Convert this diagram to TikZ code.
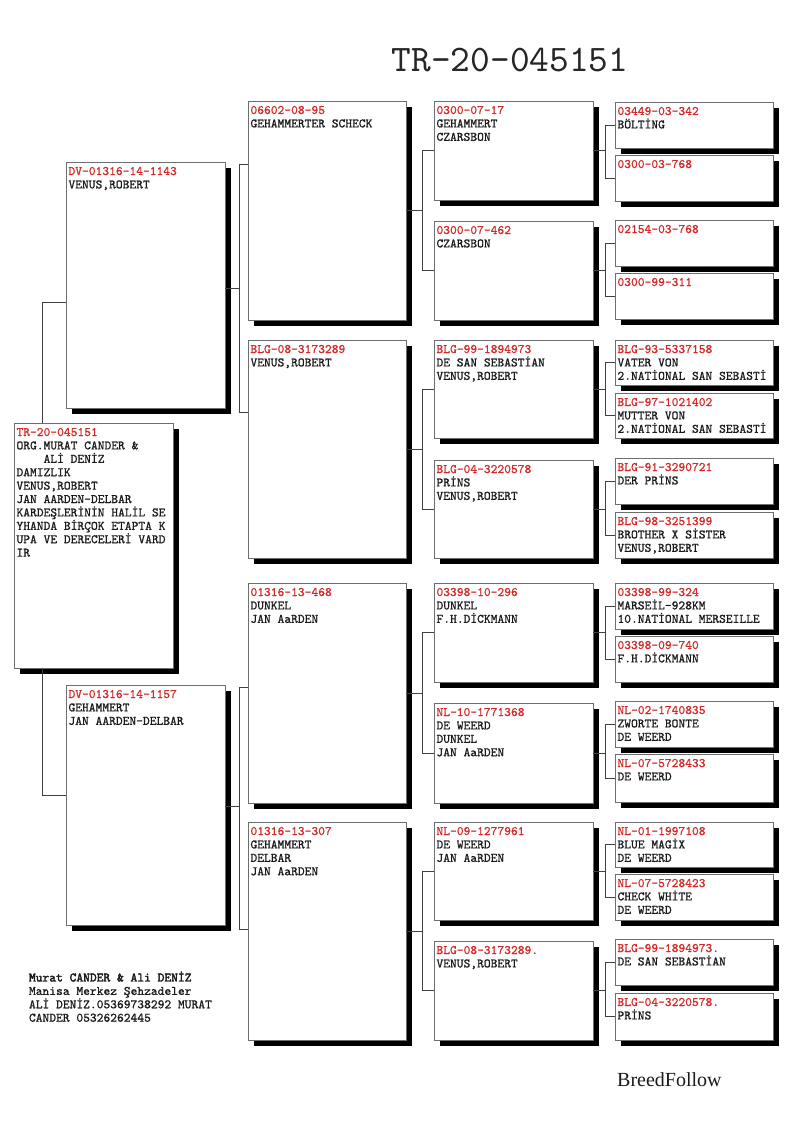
\documentclass[tikz,border=0pt]{standalone}
\usepackage{fontspec}
\setmainfont{Liberation Serif}
\newfontfamily\pedfont{lmmono10-regular.otf}[FakeBold=0.9]
\newfontfamily\titlefont{lmmono10-regular.otf}
\usetikzlibrary{calc,shadows}
\definecolor{idred}{HTML}{D42A2A}
\definecolor{framegray}{HTML}{6E6E6E}
\definecolor{inkgray}{HTML}{1A1A1A}
\tikzset{
  pbox/.style={draw=framegray, line width=0.8pt, fill=white, inner sep=0pt, outer sep=0pt,
    drop shadow={shadow xshift=6pt, shadow yshift=-6pt, fill=black, opacity=1}},
  ptxt/.style={inner sep=0pt, outer sep=0pt, align=left, text=inkgray,
    font=\pedfont\fontsize{12.9}{13.4}\selectfont},
  conn/.style={draw=black!75, line width=0.7pt},
}
\newcommand\pedbox[7]{%
  \node[pbox, minimum width=#4pt, minimum height=#5pt, anchor=north west] (#1) at (#2,#3) {};
  \node[ptxt, anchor=north west] (#1t) at ($(#1.north west)+(2.5,4)$) {\rule{0pt}{9pt}\textcolor{idred}{#6}\\#7};
}
\begin{document}
\begin{tikzpicture}[x=1pt,y=-1pt]
\useasboundingbox[fill=white] (0,0) rectangle (794,1123);

% title
\node[font=\titlefont\fontsize{37.5}{40}\selectfont, text=black!85, inner sep=0pt] (title) at (510,60) {TR-20-045151};

% root
\pedbox{root}{14}{423}{159}{245}{TR-20-045151}{ORG.MURAT CANDER \&\\\phantom{XXXX}ALİ DENİZ\\DAMIZLIK\\VENUS,ROBERT\\JAN AARDEN-DELBAR\\KARDEŞLERİNİN HALİL SE\\YHANDA BİRÇOK ETAPTA K\\UPA VE DERECELERİ VARD\\IR}

% generation 1
\pedbox{gs}{66}{162}{159}{246}{DV-01316-14-1143}{VENUS,ROBERT}
\pedbox{gd}{66}{685}{159}{240}{DV-01316-14-1157}{GEHAMMERT\\JAN AARDEN-DELBAR}

% generation 2
\pedbox{ga}{248}{101}{158}{219}{06602-08-95}{GEHAMMERTER SCHECK}
\pedbox{gb}{248}{340}{158}{218}{BLG-08-3173289}{VENUS,ROBERT}
\pedbox{gc}{248}{583}{158}{220}{01316-13-468}{DUNKEL\\JAN AaRDEN}
\pedbox{ge}{248}{822}{158}{218}{01316-13-307}{GEHAMMERT\\DELBAR\\JAN AaRDEN}

% generation 3
\pedbox{ta}{434}{101}{159}{99}{0300-07-17}{GEHAMMERT\\CZARSBON}
\pedbox{tb}{434}{221}{159}{99}{0300-07-462}{CZARSBON}
\pedbox{tc}{434}{340}{159}{98}{BLG-99-1894973}{DE SAN SEBASTİAN\\VENUS,ROBERT}
\pedbox{td}{434}{460}{159}{98}{BLG-04-3220578}{PRİNS\\VENUS,ROBERT}
\pedbox{te}{434}{583}{159}{99}{03398-10-296}{DUNKEL\\F.H.DİCKMANN}
\pedbox{tf}{434}{703}{159}{100}{NL-10-1771368}{DE WEERD\\DUNKEL\\JAN AaRDEN}
\pedbox{tg}{434}{822}{159}{98}{NL-09-1277961}{DE WEERD\\JAN AaRDEN}
\pedbox{th}{434}{941}{159}{99}{BLG-08-3173289.}{VENUS,ROBERT}

% generation 4
\pedbox{fa}{615}{102}{158}{46}{03449-03-342}{BÖLTİNG}
\pedbox{fb}{615}{155}{158}{46}{0300-03-768}{}
\pedbox{fc}{615}{220}{158}{46}{02154-03-768}{}
\pedbox{fd}{615}{273}{158}{46}{0300-99-311}{}
\pedbox{fe}{615}{340}{158}{45}{BLG-93-5337158}{VATER VON\\2.NATİONAL SAN SEBASTİ}
\pedbox{ff}{615}{393}{158}{45}{BLG-97-1021402}{MUTTER VON\\2.NATİONAL SAN SEBASTİ}
\pedbox{fg}{615}{458}{158}{46}{BLG-91-3290721}{DER PRİNS}
\pedbox{fh}{615}{512}{158}{46}{BLG-98-3251399}{BROTHER X SİSTER\\VENUS,ROBERT}
\pedbox{fi}{615}{583}{158}{46}{03398-99-324}{MARSEİL-928KM\\10.NATİONAL MERSEILLE}
\pedbox{fj}{615}{636}{158}{46}{03398-09-740}{F.H.DİCKMANN}
\pedbox{fk}{615}{701}{158}{46}{NL-02-1740835}{ZWORTE BONTE\\DE WEERD}
\pedbox{fl}{615}{754}{158}{48}{NL-07-5728433}{DE WEERD}
\pedbox{fm}{615}{822}{158}{45}{NL-01-1997108}{BLUE MAGİX\\DE WEERD}
\pedbox{fn}{615}{874}{158}{46}{NL-07-5728423}{CHECK WHİTE\\DE WEERD}
\pedbox{fo}{615}{939}{158}{46}{BLG-99-1894973.}{DE SAN SEBASTİAN}
\pedbox{fp}{615}{993}{158}{47}{BLG-04-3220578.}{PRİNS}

% connectors gen3 -> gen4
\foreach \p/\a/\b in {ta/fa/fb, tb/fc/fd, tc/fe/ff, td/fg/fh, te/fi/fj, tf/fk/fl, tg/fm/fn, th/fo/fp}{
  \draw[conn] (\p.east) -- ++(12,0);
  \draw[conn] (\a.west) -- ++(-10,0) |- (\b.west);
}
% connectors gen2 -> gen3
\foreach \p/\a/\b in {ga/ta/tb, gb/tc/td, gc/te/tf, ge/tg/th}{
  \draw[conn] (\p.east) -- ++(16,0);
  \draw[conn] (\a.west) -- ++(-12,0) |- (\b.west);
}
% connectors gen1 -> gen2
\coordinate (sbt) at (239,164);
\coordinate (sbb) at (239,412);
\draw[conn] (ga.west |- sbt) -- (sbt) -- (sbb) -- (gb.west |- sbb);
\draw[conn] (gs.east |- 0,288) -- (239,288);
\coordinate (dbt) at (239,687);
\coordinate (dbb) at (239,929);
\draw[conn] (gc.west |- dbt) -- (dbt) -- (dbb) -- (ge.west |- dbb);
\draw[conn] (gd.east |- 0,806) -- (239,806);
% connectors root -> gen1
\coordinate (rs) at (42,302);
\coordinate (rd) at (42,795);
\draw[conn] (gs.west |- rs) -- (rs) -- (root.north -| rs);
\draw[conn] (gd.west |- rd) -- (rd) -- (root.south -| rd);

% footer
\node[ptxt, anchor=north west] (foot) at (29,971.5) {\rule{0pt}{9pt}{\pedfont\fontsize{12.9}{13.4}\selectfont\addfontfeature{FakeBold=2.5}Murat CANDER \& Ali DENİZ}\\Manisa Merkez Şehzadeler\\ALİ DENİZ.05369738292 MURAT\\CANDER 05326262445};
\node[font=\rmfamily\fontsize{20}{22}\selectfont, text=inkgray, inner sep=0pt, anchor=base west] (brand) at (617,1086) {BreedFollow};
\end{tikzpicture}
\end{document}
